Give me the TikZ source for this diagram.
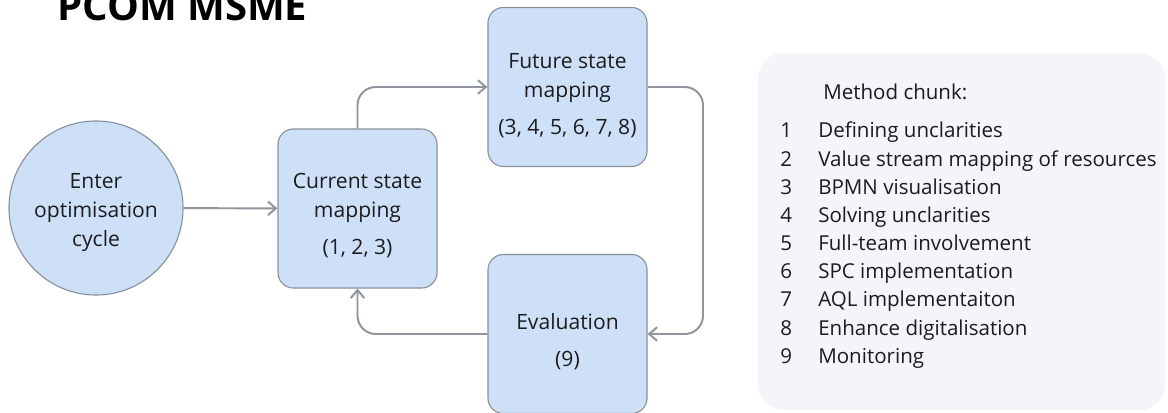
\documentclass[tikz,border=0pt]{standalone}
\usepackage{fontspec}
\setmainfont{Open Sans}
\usetikzlibrary{arrows.meta,positioning}
\definecolor{CycBlue}{RGB}{206,224,248}
\definecolor{CycEdge}{RGB}{138,145,155}
\definecolor{CycArrow}{RGB}{142,149,158}
\definecolor{CycPanel}{RGB}{244,245,249}
\definecolor{CycText}{RGB}{28,28,30}
\tikzset{
  cyc/box/.style={
    draw=CycEdge,
    line width=0.8pt,
    rounded corners=11pt,
    fill=CycBlue,
    minimum width=3.975cm,
    minimum height=3.975cm
  },
  cyc/start/.style={
    circle,
    draw=CycEdge,
    line width=0.8pt,
    fill=CycBlue,
    minimum size=4.35cm
  },
  cyc/boxtext/.style={
    align=center,
    text=CycText,
    inner sep=0pt,
    font=\fontsize{15}{20.5}\selectfont
  },
  cyc/panel/.style={
    fill=CycPanel,
    rounded corners=18pt,
    minimum width=10.175cm,
    minimum height=8.925cm
  },
  cyc/arrow/.style={-{Straight Barb[length=2mm,width=3.4mm]}, line width=1.4pt, draw=CycArrow, rounded corners=13pt},
  cyc/title/.style={font=\fontsize{28.5}{30}\selectfont\bfseries, text=black, inner sep=0pt, anchor=base west},
  cyc/item/.style={font=\fontsize{14.6}{20}\selectfont, text=CycText, inner sep=0pt, anchor=base west}
}

\begin{document}
\begin{tikzpicture}[x=0.025cm,y=-0.025cm]
  \useasboundingbox (0,0) rectangle (1168,413);
  \clip (0,0) rectangle (1168,413);
  \node[cyc/title] (title) at (57,21) {PCOM MSME};
  % cycle
  \node[cyc/start] (enter) at (96,208) {};
  \node[cyc/box] (cur) at (357.5,208.5) {};
  \node[cyc/box] (fut) at (567.5,87) {};
  \node[cyc/box] (eval) at (567.5,334) {};
  \node[cyc/boxtext] (entertext) at ([yshift=-3pt]enter.center) {Enter\\optimisation\\cycle};
  \node[cyc/boxtext] (curtext) at ([yshift=-5pt]cur.center) {Current state\\mapping\\[6pt](1, 2, 3)};
  \node[cyc/boxtext] (futtext) at ([yshift=-6pt]fut.center) {Future state\\mapping\\[6pt](3, 4, 5, 6, 7, 8)};
  \node[cyc/boxtext] (evaltext) at ([yshift=-5.5pt]eval.center) {Evaluation\\[6pt](9)};
  \coordinate (loopR) at (703,210);
  \draw[cyc/arrow] (enter) -- (cur);
  \draw[cyc/arrow] (cur.north) |- (fut.west);
  \draw[cyc/arrow] (fut.east) -| (loopR) |- (eval.east);
  \draw[cyc/arrow] (eval.west) -| (cur.south);
  % legend
  \node[cyc/panel] (panel) at (961.5,231.5) {};
  \node[cyc/item] (head) at (823,100) {Method chunk:};
  \foreach \n/\txt in {1/Defining unclarities,2/Value stream mapping of resources,3/BPMN visualisation,4/Solving unclarities,5/Full-team involvement,6/SPC implementation,7/AQL implementaiton,8/Enhance digitalisation,9/Monitoring}{
    \node[cyc/item] (num\n) at (780,{138+(\n-1)*28.15}) {\n};
    \node[cyc/item] (item\n) at (818,{138+(\n-1)*28.15}) {\txt};
  }
\end{tikzpicture}
\end{document}
